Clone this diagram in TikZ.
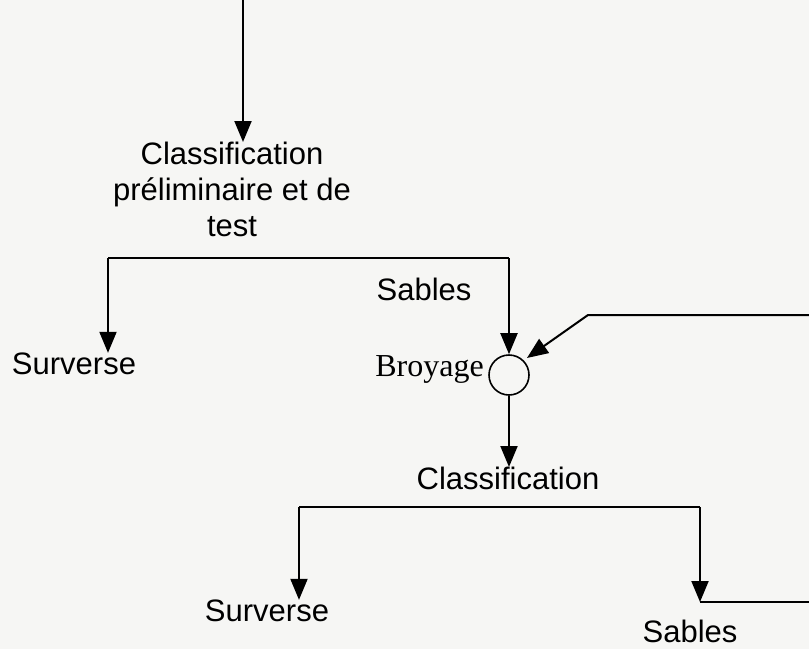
\documentclass[tikz,border=0pt]{standalone}
\usepackage{fontspec}
\setmainfont{Liberation Sans}
\newfontfamily\broyfont{Liberation Serif}
\usetikzlibrary{positioning,arrows.meta,calc}
\definecolor{paper}{HTML}{F6F6F4}

\begin{document}
\begin{tikzpicture}[x=1pt,y=1pt,
  lbl/.style={font=\fontsize{31}{36}\selectfont,inner sep=0pt,align=center},
  arr/.style={-{Triangle[length=21pt,width=17pt]},line width=2pt},
  link/.style={line width=2pt},
  mill/.style={draw,circle,line width=1.6pt,minimum size=40pt,inner sep=0pt}
]
  \fill[paper] (0,0) rectangle (809,-649);
  \useasboundingbox (0,0) rectangle (809,-649);
  % first classification
  \coordinate (in) at (243,0);
  \node[lbl,anchor=north] (cls1) at (232,-142) {Classification\\préliminaire et de\\test};
  \draw[arr] (in) -- (in |- cls1.north);
  \coordinate (b1l) at (108,-258);
  \coordinate (b1r) at (509,-258);
  \node[lbl] (surv1) at (74,-364) {Surverse};
  \node[lbl] (sab1) at (424,-289) {Sables};
  \node[mill] (broy) at (509,-375) {};
  \node[font=\broyfont\fontsize{32}{36}\selectfont,inner sep=0pt,anchor=base east] (broylbl) at (484,-376) {Broyage};
  \draw[link] (b1l) -- (b1r);
  \draw[arr] (b1l) -- (b1l |- surv1.north);
  \draw[arr] (b1r) -- (broy.north);
  % return of the sands
  \coordinate (ret1) at (809,-315);
  \coordinate (knee1) at (588,-315);
  \draw[arr,shorten >=4pt] (ret1) -- (knee1) -- (broy.north east);
  % second classification
  \node[lbl,anchor=north] (cls2) at (508,-467) {Classification};
  \draw[arr] (broy.south) -- (broy.south |- cls2.north);
  \coordinate (b2l) at (299,-507);
  \coordinate (b2r) at (700,-507);
  \node[lbl] (surv2) at (267,-611) {Surverse};
  \node[lbl] (sab2) at (690,-631) {Sables};
  \coordinate (tip2) at (700,-602);
  \coordinate (ret2) at (809,-602);
  \draw[link] (b2l) -- (b2r);
  \draw[arr] (b2l) -- (b2l |- surv2.north);
  \draw[arr] (b2r) -- (tip2);
  \draw[link] (tip2) -- (ret2);
\end{tikzpicture}
\end{document}
